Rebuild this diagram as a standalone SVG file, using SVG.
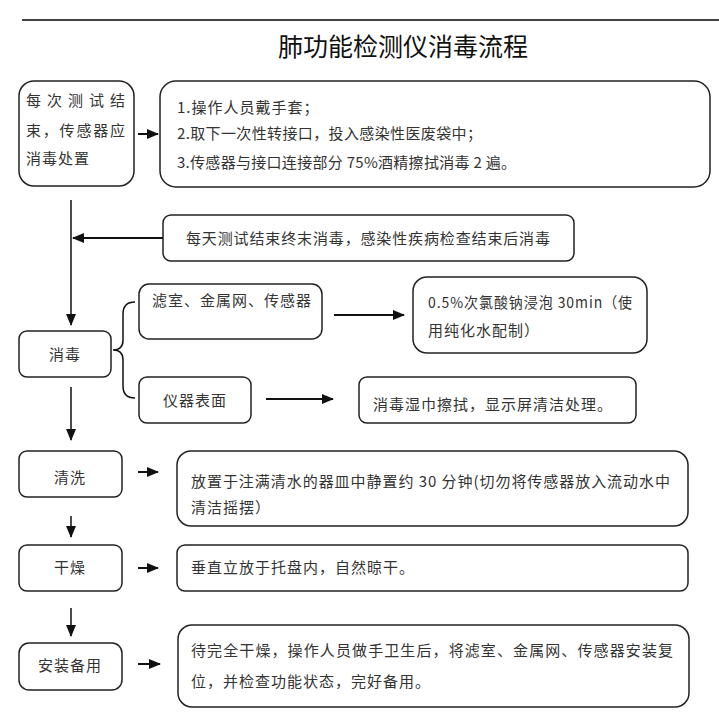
<svg xmlns="http://www.w3.org/2000/svg" width="719" height="721" viewBox="0 0 719 721">
<style>
.box{fill:#fff;stroke:#222;stroke-width:1.5}
.t{font-family:"Noto Sans CJK SC",sans-serif;font-size:15px;letter-spacing:1px;fill:#333}
.ttl{font-family:"Noto Sans CJK SC",sans-serif;font-size:25px;fill:#111}
.ln{stroke:#111;stroke-width:2;fill:none}
.thin{stroke:#111;stroke-width:1.5;fill:none}
</style>
<defs>
<marker id="ah" markerUnits="userSpaceOnUse" markerWidth="12" markerHeight="10" refX="11" refY="5" orient="auto">
<path d="M0,0 L12,5 L0,10 Z" fill="#111"/>
</marker>
</defs>
<rect width="719" height="721" fill="#fff"/>
<line x1="22" y1="20" x2="719" y2="20" stroke="#444" stroke-width="2"/>
<text class="ttl" x="403" y="56" text-anchor="middle">肺功能检测仪消毒流程</text>

<g id="n1"><rect class="box" x="19" y="81" width="115" height="105" rx="15"/>
<text class="t" x="26" y="106" textLength="100" lengthAdjust="spacing">每次测试结</text>
<text class="t" x="26" y="136" textLength="100" lengthAdjust="spacing">束，传感器应</text>
<text class="t" x="26" y="164">消毒处置</text></g>

<g id="n2"><rect class="box" x="160" y="81" width="550" height="106" rx="16"/>
<text class="t" x="177" y="113">1.操作人员戴手套；</text>
<text class="t" x="177" y="139" textLength="306" lengthAdjust="spacing">2.取下一次性转接口，投入感染性医废袋中；</text>
<text class="t" x="177" y="168" textLength="340" lengthAdjust="spacing">3.传感器与接口连接部分 75%酒精擦拭消毒 2 遍。</text></g>

<g id="n3"><rect class="box" x="163" y="215" width="411" height="46" rx="8"/>
<text class="t" x="186" y="244" textLength="365" lengthAdjust="spacing">每天测试结束终末消毒，感染性疾病检查结束后消毒</text></g>

<g id="n4"><rect class="box" x="19" y="331" width="92" height="46" rx="8"/>
<text class="t" x="65" y="360" text-anchor="middle">消毒</text></g>

<g id="n5"><rect class="box" x="139" y="284" width="183" height="55" rx="10"/>
<text class="t" x="152" y="306">滤室、金属网、传感器</text></g>

<g id="n6"><rect class="box" x="413" y="277" width="234" height="76" rx="14"/>
<text class="t" x="428" y="308" textLength="205" lengthAdjust="spacingAndGlyphs">0.5%次氯酸钠浸泡 30min（使</text>
<text class="t" x="428" y="336">用纯化水配制）</text></g>

<g id="n7"><rect class="box" x="139" y="377" width="112" height="46" rx="8"/>
<text class="t" x="195" y="406" text-anchor="middle">仪器表面</text></g>

<g id="n8"><rect class="box" x="359" y="377" width="277" height="46" rx="8"/>
<text class="t" x="373" y="410">消毒湿巾擦拭，显示屏清洁处理。</text></g>

<g id="n9"><rect class="box" x="19" y="451" width="103" height="46" rx="8"/>
<text class="t" x="70" y="483" text-anchor="middle">清洗</text></g>

<g id="n10"><rect class="box" x="177" y="451" width="511" height="75" rx="14"/>
<text class="t" x="191" y="487" textLength="480" lengthAdjust="spacing">放置于注满清水的器皿中静置约 30 分钟(切勿将传感器放入流动水中</text>
<text class="t" x="191" y="513">清洁摇摆）</text></g>

<g id="n11"><rect class="box" x="19" y="545" width="103" height="46" rx="8"/>
<text class="t" x="70" y="573" text-anchor="middle">干燥</text></g>

<g id="n12"><rect class="box" x="177" y="545" width="511" height="46" rx="8"/>
<text class="t" x="191" y="573">垂直立放于托盘内，自然晾干。</text></g>

<g id="n13"><rect class="box" x="19" y="643" width="103" height="47" rx="10"/>
<text class="t" x="70" y="671" text-anchor="middle">安装备用</text></g>

<g id="n14"><rect class="box" x="178" y="625" width="511" height="82" rx="14"/>
<text class="t" x="191" y="656" textLength="483" lengthAdjust="spacing">待完全干燥，操作人员做手卫生后，将滤室、金属网、传感器安装复</text>
<text class="t" x="191" y="687">位，并检查功能状态，完好备用。</text></g>

<g id="connectors">
<line class="ln" x1="138" y1="134" x2="158" y2="134" marker-end="url(#ah)"/>
<line class="thin" x1="71" y1="200" x2="71" y2="325" marker-end="url(#ah)"/>
<line class="ln" x1="163" y1="238" x2="73" y2="238" marker-end="url(#ah)"/>
<path class="thin" d="M135,302 Q123,302 123,314 L123,340 Q123,350 113,350 Q123,350 123,360 L123,386 Q123,398 135,398"/>
<line class="ln" x1="334" y1="315" x2="404" y2="315" marker-end="url(#ah)"/>
<line class="ln" x1="266" y1="399" x2="333" y2="399" marker-end="url(#ah)"/>
<line class="thin" x1="71" y1="387" x2="71" y2="440" marker-end="url(#ah)"/>
<line class="ln" x1="138" y1="472" x2="158" y2="472" marker-end="url(#ah)"/>
<line class="thin" x1="71" y1="516" x2="71" y2="537" marker-end="url(#ah)"/>
<line class="ln" x1="138" y1="568" x2="158" y2="568" marker-end="url(#ah)"/>
<line class="thin" x1="71" y1="608" x2="71" y2="636" marker-end="url(#ah)"/>
<line class="ln" x1="138" y1="664" x2="160" y2="664" marker-end="url(#ah)"/>
</g>
</svg>
